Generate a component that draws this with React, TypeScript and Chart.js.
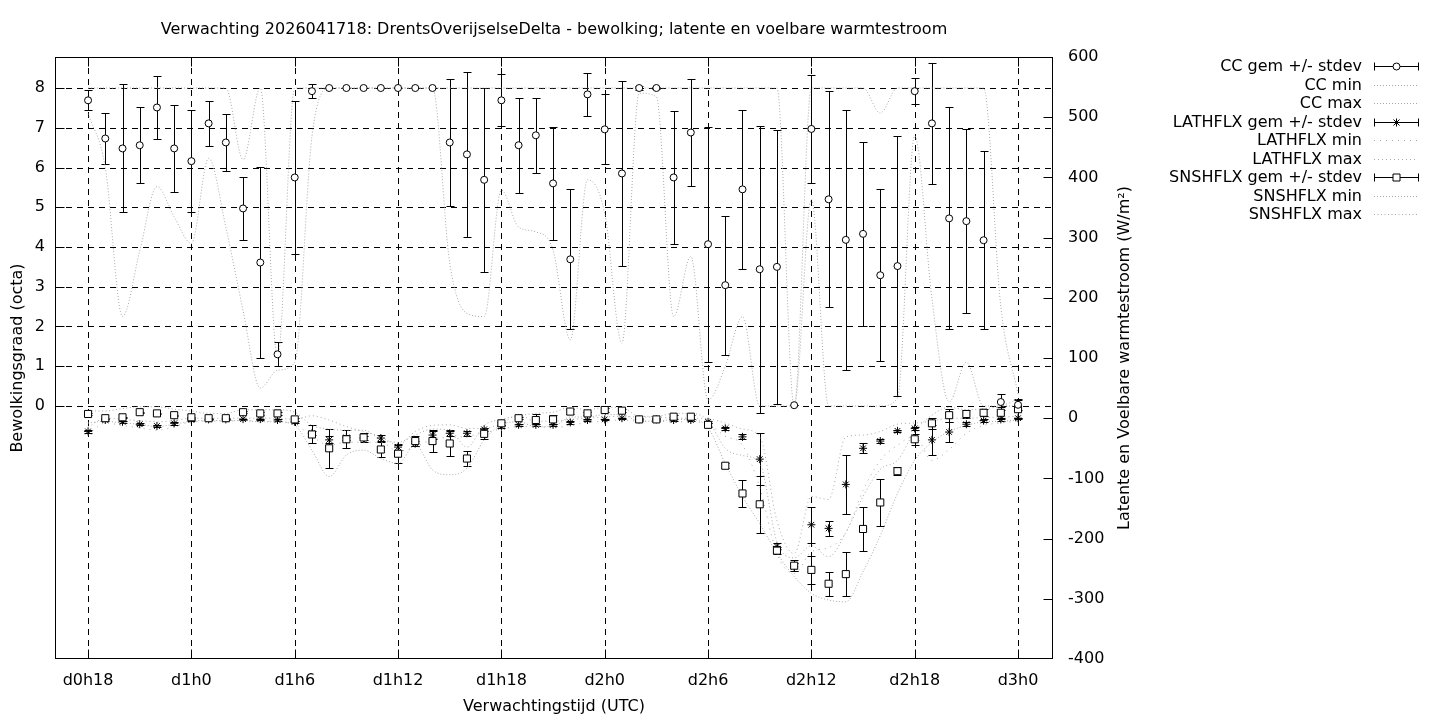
import React, { useEffect, useRef } from 'react';
import { Chart, registerables } from 'chart.js';
Chart.register(...registerables);

const FONT = '"DejaVu Sans", sans-serif';
const FS = 16;

const titleText = 'Verwachting 2026041718: DrentsOverijselseDelta - bewolking; latente en voelbare warmtestroom';
const yTitle = 'Bewolkingsgraad (octa)';
const y2Title = 'Latente en Voelbare warmtestroom (W/m²)';
const xTitle = 'Verwachtingstijd (UTC)';

// forecast hours since d0h0
const hours = [18, 19, 20, 21, 22, 23, 24, 25, 26, 27, 28, 29, 30, 31, 32, 33, 34, 35, 36, 37, 38, 39, 40, 41, 42, 43, 44, 45, 46, 47, 48, 49, 50, 51, 52, 53, 54, 55, 56, 57, 58, 59, 60, 61, 62, 63, 64, 65, 66, 67, 68, 69, 70, 71, 72];

const xTicks = [18, 24, 30, 36, 42, 48, 54, 60, 66, 72];
const xTickLabels = ['d0h18', 'd1h0', 'd1h6', 'd1h12', 'd1h18', 'd2h0', 'd2h6', 'd2h12', 'd2h18', 'd3h0'];
const yTicks = [0, 1, 2, 3, 4, 5, 6, 7, 8];
const y2Ticks = [-400, -300, -200, -100, 0, 100, 200, 300, 400, 500, 600];

const ccMean = [7.69, 6.73, 6.48, 6.56, 7.51, 6.48, 6.16, 7.11, 6.63, 4.97,
  3.61, 1.3, 5.75, 7.92, 8, 8, 8, 8, 8, 8,
  8, 6.63, 6.33, 5.69, 7.69, 6.56, 6.81, 5.6, 3.69, 7.84,
  6.96, 5.85, 8, 8, 5.75, 6.88, 4.07, 3.04, 5.45, 3.44,
  3.5, 0.02, 6.97, 5.2, 4.18, 4.33, 3.29, 3.52, 7.92, 7.11,
  4.72, 4.65, 4.17, 0.1, 0.03];
const ccSd = [0.25, 0.64, 1.61, 0.96, 0.8, 1.1, 1.28, 0.56, 0.72, 0.79,
  2.4, 0.3, 1.93, 0.17, 0, 0, 0, 0, 0, 0,
  0, 1.59, 2.07, 2.31, 0.65, 1.2, 0.95, 1.43, 1.76, 0.55,
  0.88, 2.33, 0.05, 0.03, 1.67, 1.35, 2.96, 1.75, 2.0, 3.61,
  3.45, 0, 1.36, 2.72, 3.27, 2.31, 2.17, 3.28, 0.32, 1.53,
  2.79, 2.32, 2.24, 0.21, 0.14];
const ccMin = [7.36, 6.0, 2.25, 3.9, 5.52, 4.76, 4.09, 6.23, 4.5, 2.4,
  0.45, 0.9, 1.1, 6.78, 8, 8, 8, 8, 8, 8,
  8, 3.6, 2.33, 2.25, 5.43, 4.5, 4.38, 3.92, 1.66, 5.69,
  4.85, 1.58, 7.87, 7.78, 2.25, 3.76, 0.15, 1.0, 2.25, 0,
  0, 0, 5.2, 0, 0, 0, 0, 0.2, 6.8, 2.7,
  0.1, 1.1, 0, 0, 0];
const ccMax = [8, 8, 8, 8, 8, 8, 8, 8, 8, 6.2,
  8, 1.2, 8, 8, 8, 8, 8, 8, 8, 8,
  8, 8, 8, 8, 8, 8, 8, 8, 8, 8,
  8, 8, 8, 8, 8, 8, 8, 8, 8, 8,
  8, 0, 8, 8, 8, 8, 7.37, 8, 8, 8,
  8, 8, 8, 2.5, 0.3];

const lhMean = [-22, -3, -6, -10, -13, -8.5, -3, -2, -2, -1.5,
  -1.5, -3, -6, -25, -36, -32, -33, -33, -48, -42,
  -28, -25, -25, -18.5, -14, -11, -11, -11, -7, -3,
  -2, 0, -2, -2, -3, -3, -6, -17, -31, -68,
  -213, -247, -177, -183, -110, -50, -38, -21, -17, -36,
  -23, -10, -4, -2, 0];
const lhSd = [3, 2, 2, 2, 2, 2, 1, 1, 1, 1,
  1, 1, 2, 3, 6, 4, 4, 5, 5, 4,
  6, 5, 4, 3, 2, 2, 2, 2, 2, 1,
  1, 1, 1, 1, 1, 1, 2, 2, 4, 43,
  5, 6, 30, 13, 49, 8, 3, 2, 2, 25,
  17, 3, 2, 2, 1];
const lhMin = [-28, -8, -12, -16, -20, -14, -6, -5, -5, -4, -5, -6, -10,
  -30, -45, -40, -40, -40, -55, -48, -35, -32, -30, -24, -18, -14,
  -14, -16, -12, -7, -5, -3, -5, -5, -6, -6, -10,
  -30, -45, -115, -225, -258, -222, -215, -190, -120, -70, -45, -30, -70, -52, -25, -12, -8, -5];
const lhMax = [-15, 0, -2, -4, -6, -4, 0, 0, 0, 0, 0, 0, -2,
  4, -3, -14, -22, -31, -44, -22, -12, -11, -17, -17, -8.5, 5,
  -5, -5, -2, 0, 2, 3, 2, 2, 0, 0, -1,
  -8, -18, -30, -170, -225, -130, -135, -31, -28, -22, -10, -8, -5, 0, 0, 1, 2, 3];

const shMean = [7, 0, 1.5, 10, 8, 5, 1.5, 0, 0, 10,
  8, 8, -2, -27, -50, -35, -32, -52, -59, -38,
  -38, -42, -67, -26, -8.5, 0, -3, -2, 11, 8,
  13.6, 12.5, -2, -2, 2.5, 2.5, -11, -79, -125, -143,
  -220, -245, -252, -275, -259, -184, -140, -88, -35, -8.5,
  5, 7, 9, 9, 15];
const shSd = [2, 1, 1, 1, 1, 1, 1, 1, 1, 2,
  2, 2, 3, 15, 32, 15, 8, 12, 15, 8,
  18, 21, 12, 9, 3, 2, 10, 8, 4, 3,
  3, 3, 2, 2, 3, 3, 3, 4, 23, 47,
  6, 9, 23, 20, 37, 37, 39, 7, 9, 9,
  11, 6, 6, 10, 15];
const shMin = [-8, -5, -8, -10, -14, -10, -5, -4, -4, -4, -6, -6, -12,
  -53, -97, -61, -53, -67, -75, -44.5, -86, -94, -83, -36, -11, -6,
  -14, -14, 2, 2, 6, 6, -5, -5, -2, -2, -16,
  -75, -130, -175, -224, -263, -291, -302, -305, -255, -195, -125, -70, -40, -22, -12, -6, -5, -3];
const shMax = [12, 12, 16, 19, 19, 15, 12, 8, 8, 14, 14, 14, 10,
  -12, -18, -20, -20, -35, -40, -28, -18, -20, -48, -12, -2, 4,
  8, 10, 18, 14, 18, 18, 3, 3, 8, 8, -4,
  -50, -62, -75, -205, -232, -212, -230, -190, -130, -85, -70, -22, 5, 18, 14, 16, 20, 32];

const legendLabels = ['CC gem +/- stdev', 'CC min', 'CC max', 'LATHFLX gem +/- stdev', 'LATHFLX min', 'LATHFLX max', 'SNSHFLX gem +/- stdev', 'SNSHFLX min', 'SNSHFLX max'];

const DOT_COLOR = '#a8a8a8';
const dashes = {
  ccMin: [1, 2], ccMax: [1, 2], lhMin: [1, 5], lhMax: [1, 3], shMin: [1, 2], shMax: [1, 2.5],
};

function drawMarker(ctx: CanvasRenderingContext2D, kind: string, x: number, y: number) {
  ctx.save();
  ctx.setLineDash([]);
  ctx.lineWidth = 1;
  ctx.strokeStyle = '#000';
  ctx.fillStyle = '#fff';
  if (kind === 'circle') {
    ctx.beginPath();
    ctx.arc(x, y, 3.5, 0, Math.PI * 2);
    ctx.fill();
    ctx.stroke();
  } else if (kind === 'rect') {
    ctx.beginPath();
    ctx.rect(x - 3.5, y - 3.5, 7, 7);
    ctx.fill();
    ctx.stroke();
  } else {
    const r = 4;
    ctx.beginPath();
    ctx.moveTo(x - r, y); ctx.lineTo(x + r, y);
    ctx.moveTo(x, y - r); ctx.lineTo(x, y + r);
    const d = r * 0.75;
    ctx.moveTo(x - d, y - d); ctx.lineTo(x + d, y + d);
    ctx.moveTo(x - d, y + d); ctx.lineTo(x + d, y - d);
    ctx.stroke();
  }
  ctx.restore();
}

export default function App() {
  const ref = useRef<HTMLCanvasElement>(null);

  useEffect(() => {
    document.body.style.margin = '0';
    const canvas = ref.current;
    if (!canvas) return;
    Chart.defaults.font.family = FONT;
    Chart.defaults.font.size = FS;
    Chart.defaults.color = '#000';

    const pts = (a: number[]) => hours.map((h, i) => ({ x: h, y: a[i] }));

    const decor = {
      id: 'gnuplotDecor',
      beforeDatasetsDraw(chart: any) {
        const ctx = chart.ctx as CanvasRenderingContext2D;
        const a = chart.chartArea;
        const sx = chart.scales.x, sy = chart.scales.y, sy2 = chart.scales.y1;
        ctx.save();
        ctx.strokeStyle = '#000';
        ctx.lineWidth = 1;
        ctx.setLineDash([6, 5]);
        ctx.beginPath();
        xTicks.forEach((v) => {
          const px = Math.round(sx.getPixelForValue(v)) + 0.5;
          ctx.moveTo(px, a.top); ctx.lineTo(px, a.bottom);
        });
        yTicks.forEach((v) => {
          const py = Math.round(sy.getPixelForValue(v)) + 0.5;
          ctx.moveTo(a.left, py); ctx.lineTo(a.right, py);
        });
        ctx.stroke();
        ctx.setLineDash([]);
        const bars = (mean: number[], sd: number[], scale: any) => {
          ctx.beginPath();
          hours.forEach((h, i) => {
            const px = Math.round(sx.getPixelForValue(h)) + 0.5;
            const y1 = Math.round(scale.getPixelForValue(mean[i] + sd[i])) + 0.5;
            const y2 = Math.round(scale.getPixelForValue(mean[i] - sd[i])) + 0.5;
            ctx.moveTo(px, y1); ctx.lineTo(px, y2);
            ctx.moveTo(px - 4, y1); ctx.lineTo(px + 4, y1);
            ctx.moveTo(px - 4, y2); ctx.lineTo(px + 4, y2);
          });
          ctx.stroke();
        };
        bars(ccMean, ccSd, sy);
        bars(lhMean, lhSd, sy2);
        bars(shMean, shSd, sy2);
        ctx.restore();
      },
      afterDatasetsDraw(chart: any) {
        const ctx = chart.ctx as CanvasRenderingContext2D;
        const a = chart.chartArea;
        const sx = chart.scales.x, sy = chart.scales.y, sy2 = chart.scales.y1;
        ctx.save();
        ctx.strokeStyle = '#000';
        ctx.lineWidth = 1;
        ctx.setLineDash([]);
        const L = Math.round(a.left) + 0.5, R = Math.round(a.right) - 0.5;
        const T = Math.round(a.top) + 0.5, B = Math.round(a.bottom) - 0.5;
        ctx.beginPath();
        yTicks.forEach((v) => {
          const py = Math.round(sy.getPixelForValue(v)) + 0.5;
          ctx.moveTo(L, py); ctx.lineTo(L + 9, py);
        });
        y2Ticks.forEach((v) => {
          const py = Math.min(B, Math.max(T, Math.round(sy2.getPixelForValue(v)) + 0.5));
          ctx.moveTo(R, py); ctx.lineTo(R - 9, py);
        });
        xTicks.forEach((v) => {
          const px = Math.round(sx.getPixelForValue(v)) + 0.5;
          ctx.moveTo(px, B); ctx.lineTo(px, B - 9);
          ctx.moveTo(px, T); ctx.lineTo(px, T + 9);
        });
        ctx.stroke();
        ctx.strokeRect(L, T, R - L, B - T);
        ctx.restore();
      },
      afterDraw(chart: any) {
        const ctx = chart.ctx as CanvasRenderingContext2D;
        const a = chart.chartArea;
        ctx.save();
        ctx.fillStyle = '#000';
        ctx.font = `${FS}px ${FONT}`;
        ctx.textBaseline = 'middle';
        ctx.textAlign = 'center';
        ctx.fillText(titleText, (a.left + a.right) / 2, 30);
        ctx.fillText(xTitle, (a.left + a.right) / 2, 707);
        const cy = (a.top + a.bottom) / 2;
        ctx.save();
        ctx.translate(18, cy);
        ctx.rotate(-Math.PI / 2);
        ctx.fillText(yTitle, 0, 0);
        ctx.restore();
        ctx.save();
        ctx.translate(1125, cy);
        ctx.rotate(-Math.PI / 2);
        ctx.fillText(y2Title, 0, 0);
        ctx.restore();
        const kinds = ['circle', 'ccMin', 'ccMax', 'star', 'lhMin', 'lhMax', 'rect', 'shMin', 'shMax'];
        const x1 = 1374, x2 = 1418;
        legendLabels.forEach((lab, i) => {
          const y = 67 + i * 18.5;
          ctx.textAlign = 'right';
          ctx.fillStyle = '#000';
          ctx.fillText(lab, 1362, y);
          const k = kinds[i];
          const ly = Math.round(y - 1) + 0.5;
          ctx.lineWidth = 1;
          if (k === 'circle' || k === 'star' || k === 'rect') {
            ctx.setLineDash([]);
            ctx.strokeStyle = '#000';
            ctx.beginPath();
            ctx.moveTo(x1 + 0.5, ly); ctx.lineTo(x2 + 0.5, ly);
            ctx.moveTo(x1 + 0.5, ly - 4); ctx.lineTo(x1 + 0.5, ly + 4);
            ctx.moveTo(x2 + 0.5, ly - 4); ctx.lineTo(x2 + 0.5, ly + 4);
            ctx.stroke();
            drawMarker(ctx, k, (x1 + x2) / 2 + 0.5, ly);
          } else {
            ctx.setLineDash((dashes as any)[k]);
            ctx.strokeStyle = DOT_COLOR;
            ctx.beginPath();
            ctx.moveTo(x1, ly); ctx.lineTo(x2, ly);
            ctx.stroke();
          }
        });
        ctx.restore();
      },
    };

    const dotted = (data: number[], key: string, axis: string) => ({
      data: pts(data),
      yAxisID: axis,
      showLine: true,
      borderColor: DOT_COLOR,
      borderWidth: 1,
      borderDash: (dashes as any)[key],
      pointRadius: 0,
      cubicInterpolationMode: 'monotone' as const,
      order: 10,
    });

    const chart = new Chart(canvas, {
      type: 'scatter',
      data: {
        datasets: [
          dotted(ccMin, 'ccMin', 'y'),
          dotted(ccMax, 'ccMax', 'y'),
          dotted(lhMin, 'lhMin', 'y1'),
          dotted(lhMax, 'lhMax', 'y1'),
          dotted(shMin, 'shMin', 'y1'),
          dotted(shMax, 'shMax', 'y1'),
          {
            data: pts(lhMean), yAxisID: 'y1', showLine: false, pointStyle: 'star',
            pointRadius: 4, borderColor: '#000', backgroundColor: '#000', borderWidth: 1, order: 2,
          },
          {
            data: pts(shMean), yAxisID: 'y1', showLine: false, pointStyle: 'rect',
            pointRadius: 5, borderColor: '#000', backgroundColor: '#fff', borderWidth: 1, order: 1,
          },
          {
            data: pts(ccMean), yAxisID: 'y', showLine: false, pointStyle: 'circle',
            pointRadius: 3.5, borderColor: '#000', backgroundColor: '#fff', borderWidth: 1, order: 0,
          },
        ],
      },
      options: {
        animation: false,
        responsive: false,
        maintainAspectRatio: false,
        events: [],
        layout: { padding: { top: 57, left: 0, right: 0, bottom: 0 } },
        plugins: { legend: { display: false }, tooltip: { enabled: false }, title: { display: false } },
        scales: {
          x: {
            type: 'linear', position: 'bottom', min: 16.08, max: 74.03,
            afterFit: (s: any) => { s.height = 61; },
            afterBuildTicks: (s: any) => { s.ticks = xTicks.map((v) => ({ value: v })); },
            ticks: {
              padding: 12, maxRotation: 0, autoSkip: false, color: '#000',
              callback: (v: any) => xTickLabels[xTicks.indexOf(Number(v))] ?? '',
            },
            grid: { display: false, drawTicks: false },
            border: { display: false },
          },
          y: {
            type: 'linear', position: 'left', min: -6.365, max: 8.78,
            afterFit: (s: any) => { s.width = 55; },
            afterBuildTicks: (s: any) => { s.ticks = yTicks.map((v) => ({ value: v })); },
            ticks: { padding: 10, color: '#000', callback: (v: any) => String(v) },
            grid: { display: false, drawTicks: false },
            border: { display: false },
          },
          y1: {
            type: 'linear', position: 'right', min: -400, max: 600,
            afterFit: (s: any) => { s.width = 387; },
            afterBuildTicks: (s: any) => { s.ticks = y2Ticks.map((v) => ({ value: v })); },
            ticks: { padding: 15, color: '#000', callback: (v: any) => String(v) },
            grid: { display: false, drawTicks: false },
            border: { display: false },
          },
        },
      },
      plugins: [decor],
    } as any);

    return () => chart.destroy();
  }, []);

  return (
    <div style={{ width: 1440, height: 720 }}>
      <canvas ref={ref} width={1440} height={720} style={{ display: 'block', width: 1440, height: 720 }} />
    </div>
  );
}
